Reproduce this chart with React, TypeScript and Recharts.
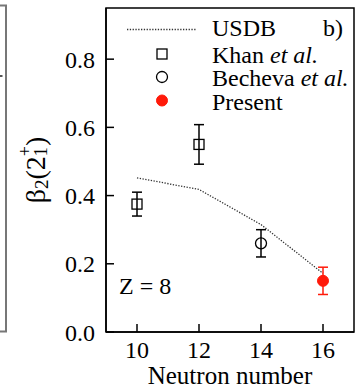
import React from 'react';
import {
  ComposedChart,
  XAxis,
  YAxis,
  Line,
  Scatter,
  ErrorBar,
  ReferenceArea,
} from 'recharts';

// ---- data ----
const usdbN = [10, 12, 14, 16];
const usdbBeta = [0.452, 0.418, 0.315, 0.172];

const khanN = [10, 12];
const khanBeta = [0.375, 0.55];
const khanErr = [0.035, 0.058];

const bechevaN = [14];
const bechevaBeta = [0.26];
const bechevaErr = [0.04];

const presentN = [16];
const presentBeta = [0.15];
const presentErr = [0.04];

const xTicks = [10, 12, 14, 16];
const yTicks = [0, 0.2, 0.4, 0.6, 0.8];
const legendNames = ['USDB', 'Khan', 'Becheva', 'Present'];

const FONT = 'Liberation Serif, DejaVu Serif, Times New Roman, serif';
const RED = '#ff1a0a';
const TXT = { fontFamily: FONT };

const usdbData = usdbN.map((n, i) => ({ n, beta: usdbBeta[i] }));
const khanData = khanN.map((n, i) => ({ n, beta: khanBeta[i], err: khanErr[i] }));
const bechevaData = bechevaN.map((n, i) => ({ n, beta: bechevaBeta[i], err: bechevaErr[i] }));
const presentData = presentN.map((n, i) => ({ n, beta: presentBeta[i], err: presentErr[i] }));

const SquareShape = (p: any) => (
  <rect x={p.cx - 5} y={p.cy - 5} width={10} height={10} fill="none" stroke="#000" strokeWidth={1.3} />
);
const CircleShape = (p: any) => (
  <circle cx={p.cx} cy={p.cy} r={5.5} fill="none" stroke="#000" strokeWidth={1.3} />
);
const RedShape = (p: any) => <circle cx={p.cx} cy={p.cy} r={5.5} fill={RED} stroke={RED} />;

const XLabel = (props: any) => {
  const vb = props.viewBox || {};
  return (
    <text x={vb.x + vb.width / 2} y={vb.y + 52} textAnchor="middle" fontSize={25} style={TXT} fill="#000">
      Neutron number
    </text>
  );
};

const YLabel = (props: any) => {
  const vb = props.viewBox || {};
  const cx = 35;
  const cy = vb.y + vb.height / 2;
  return (
    <text
      x={cx}
      y={cy}
      transform={`rotate(-90, ${cx}, ${cy})`}
      textAnchor="middle"
      dominantBaseline="central"
      fontSize={28}
      style={TXT}
      fill="#000"
    >
      β<tspan fontSize={19} dy={6}>2</tspan>
      <tspan dy={-6}>(2</tspan>
      <tspan fontSize={18} dy={6}>1</tspan>
      <tspan fontSize={18} dx={-9} dy={-16}>+</tspan>
      <tspan dy={10}>)</tspan>
    </text>
  );
};

export default function App() {
  return (
    <div style={{ position: 'absolute', left: 0, top: 0, width: 359, height: 388, background: '#fff', fontFamily: FONT }}>
      <ComposedChart width={359} height={388} margin={{ top: 8, right: 5, left: 0, bottom: 0 }} style={TXT}>
        <XAxis
          dataKey="n"
          type="number"
          domain={[9, 17]}
          ticks={xTicks}
          interval={0}
          allowDataOverflow
          height={56}
          tickSize={-8}
          tickMargin={17}
          axisLine={{ stroke: '#000', strokeWidth: 1.5 }}
          tickLine={{ stroke: '#000', strokeWidth: 1.5 }}
          tick={{ fill: '#000', fontSize: 24, fontFamily: FONT, style: TXT }}
          label={<XLabel />}
        />
        <YAxis
          type="number"
          domain={[0, 0.95]}
          ticks={yTicks}
          interval={0}
          allowDataOverflow
          width={106}
          tickSize={-8}
          tickMargin={19}
          tickFormatter={(v: number) => v.toFixed(1)}
          axisLine={{ stroke: '#000', strokeWidth: 1.5 }}
          tickLine={{ stroke: '#000', strokeWidth: 1.5 }}
          tick={{ fill: '#000', fontSize: 24, fontFamily: FONT, style: TXT }}
          label={<YLabel />}
        />
        <ReferenceArea x1={9} x2={17} y1={0} y2={0.95} fill="none" stroke="#000" strokeWidth={1.5} ifOverflow="visible" />
        <Line
          data={usdbData}
          dataKey="beta"
          type="linear"
          dot={false}
          activeDot={false}
          stroke="#333"
          strokeWidth={1.3}
          strokeDasharray="1.3 1.5"
          isAnimationActive={false}
        />
        <Scatter data={khanData} dataKey="beta" shape={SquareShape} isAnimationActive={false}>
          <ErrorBar dataKey="err" direction="y" width={5} stroke="#000" strokeWidth={1.5} isAnimationActive={false} />
        </Scatter>
        <Scatter data={bechevaData} dataKey="beta" shape={CircleShape} isAnimationActive={false}>
          <ErrorBar dataKey="err" direction="y" width={5} stroke="#000" strokeWidth={1.5} isAnimationActive={false} />
        </Scatter>
        <Scatter data={presentData} dataKey="beta" shape={RedShape} isAnimationActive={false}>
          <ErrorBar dataKey="err" direction="y" width={5} stroke={RED} strokeWidth={1.5} isAnimationActive={false} />
        </Scatter>
      </ComposedChart>
      <svg
        width={359}
        height={388}
        style={{ position: 'absolute', left: 0, top: 0, pointerEvents: 'none', fontFamily: FONT }}
      >
        {/* remnant of neighbouring panel */}
        <path d="M0 5.5 H6 V331.5 H0" fill="none" stroke="#777" strokeWidth={2} />
        <line x1={0} y1={76} x2={2.5} y2={76} stroke="#555" strokeWidth={2} />
        {/* legend */}
        <line x1={127} y1={29.5} x2={197} y2={29.5} stroke="#333" strokeWidth={1.3} strokeDasharray="1.3 1.5" />
        <text x={212} y={36} fontSize={24} fill="#000">{legendNames[0]}</text>
        <rect x={157} y={49} width={10} height={10} fill="none" stroke="#000" strokeWidth={1.3} />
        <text x={212} y={62.5} fontSize={24} fill="#000">
          {legendNames[1]} <tspan fontStyle="italic">et al.</tspan>
        </text>
        <circle cx={162} cy={77} r={5.5} fill="none" stroke="#000" strokeWidth={1.3} />
        <text x={212} y={86} fontSize={24} fill="#000">
          {legendNames[2]} <tspan fontStyle="italic">et al.</tspan>
        </text>
        <circle cx={162} cy={100.5} r={5.5} fill={RED} stroke={RED} />
        <text x={212} y={110} fontSize={24} fill="#000">{legendNames[3]}</text>
        {/* panel tag and annotation */}
        <text x={323} y={36} fontSize={24} fill="#000">b)</text>
        <text x={119} y={294} fontSize={24} fill="#000">Z = 8</text>
      </svg>
    </div>
  );
}
